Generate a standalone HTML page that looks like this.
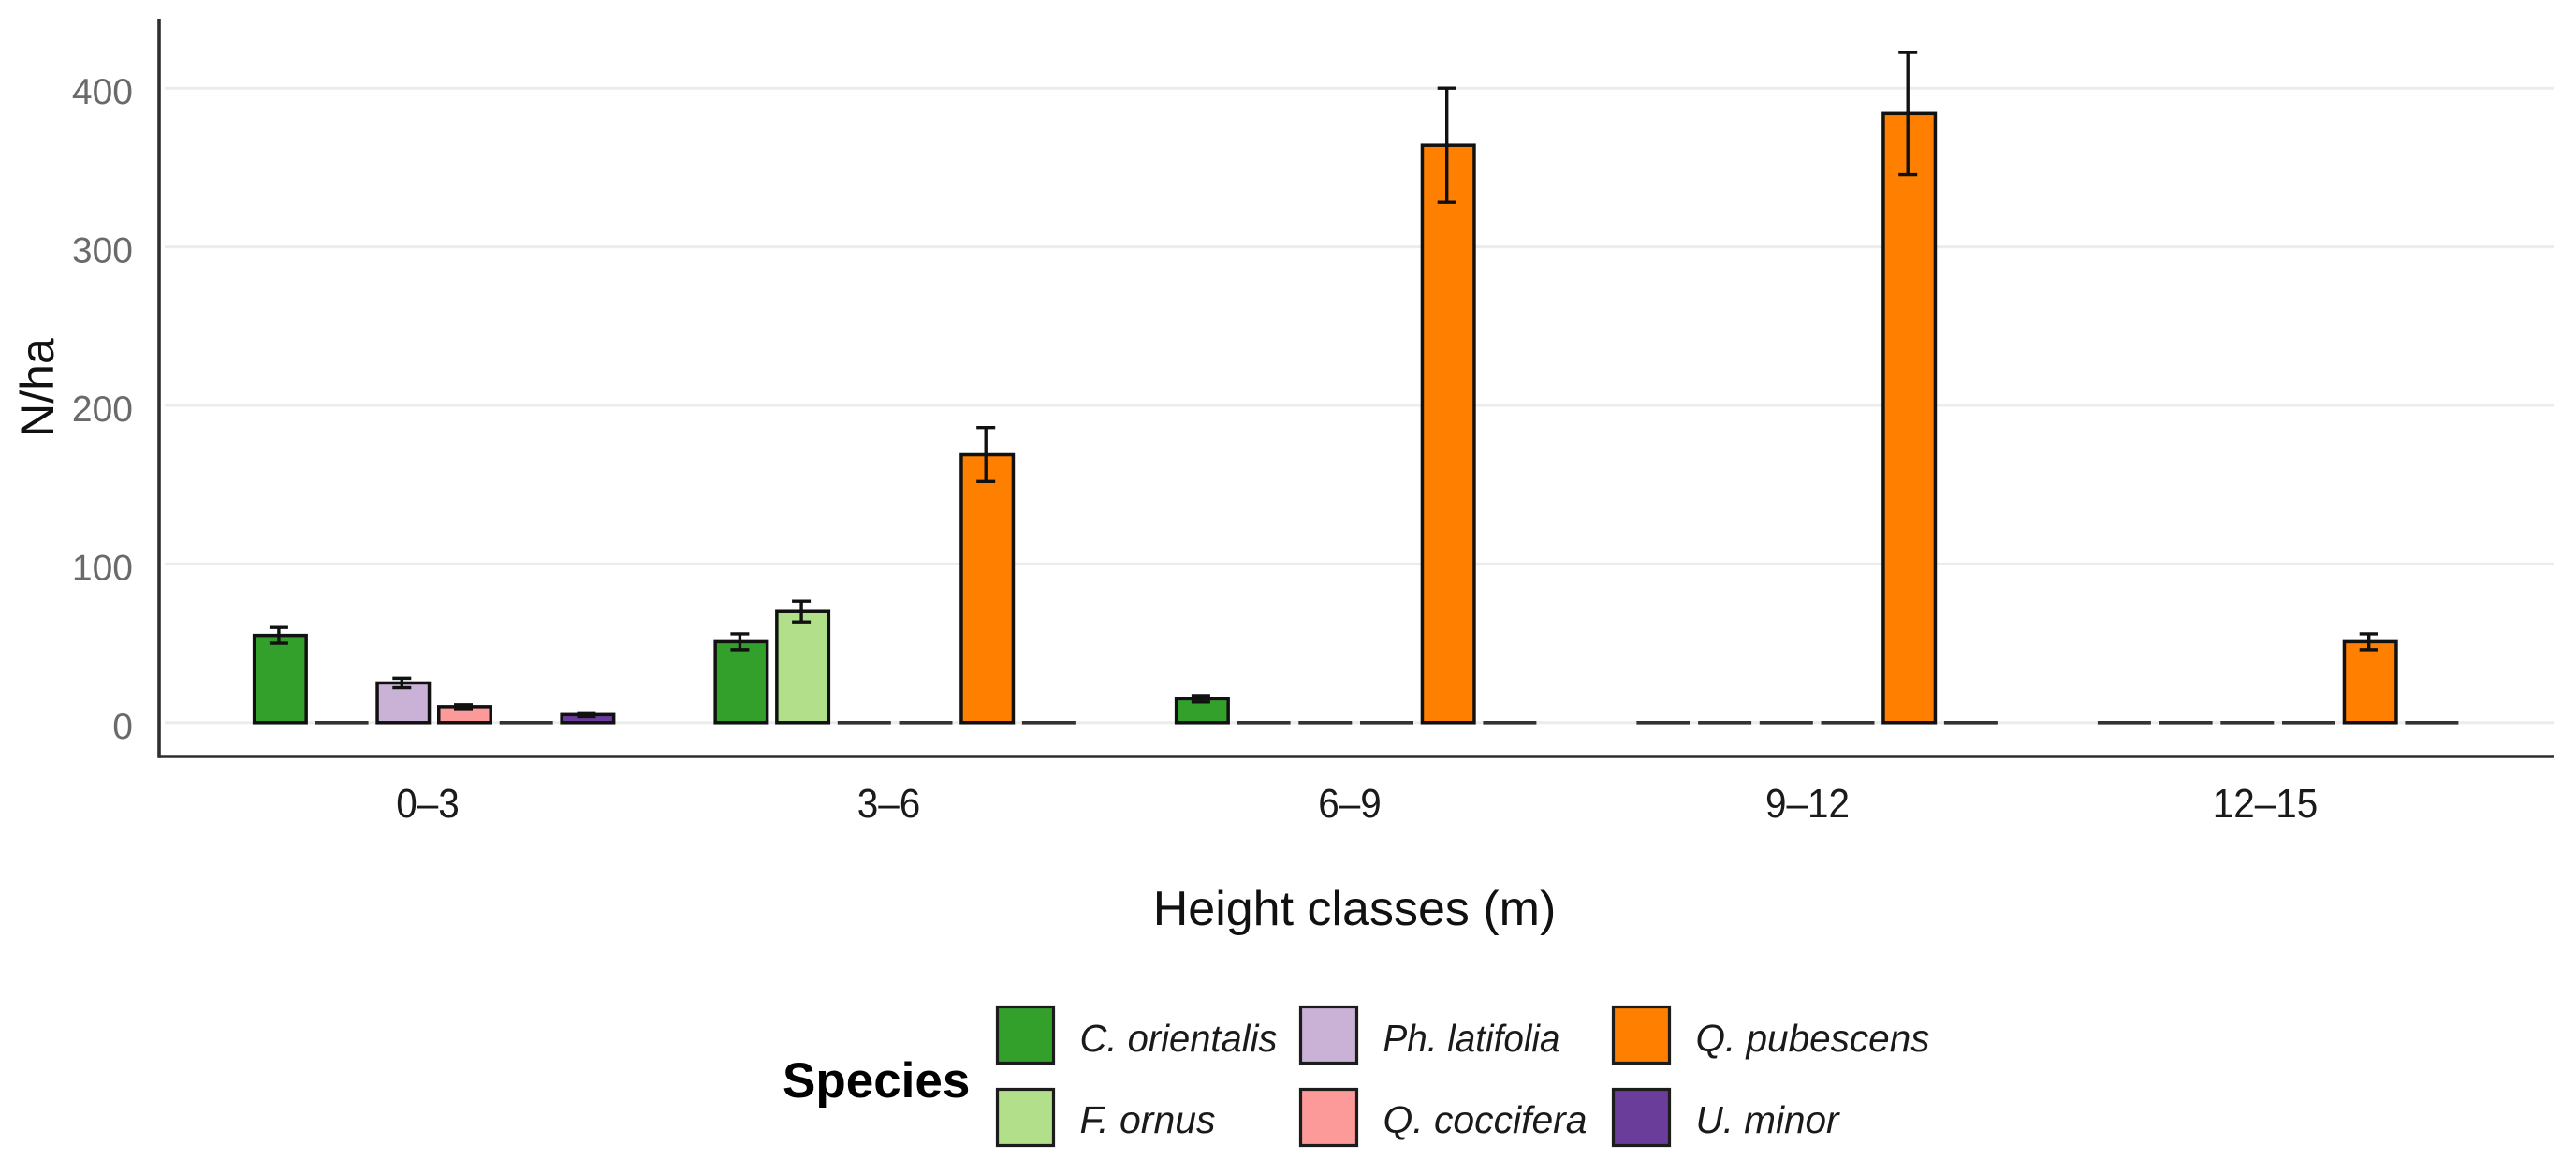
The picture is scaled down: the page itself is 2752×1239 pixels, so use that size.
<!DOCTYPE html>
<html lang="en">
<head>
<meta charset="utf-8">
<title>N/ha by height class and species</title>
<style>
html,body{margin:0;padding:0;background:#fff;}
#chart{display:block;width:2752px;height:1239px;font-family:"Liberation Sans",sans-serif;}
</style>
</head>
<body>
<svg id="chart" xmlns="http://www.w3.org/2000/svg" width="2752" height="1239" viewBox="0 0 2752 1239"></svg>
<script>
const categories = ["0–3", "3–6", "6–9", "9–12", "12–15"];
const yTicks = [0, 100, 200, 300, 400];
const speciesNames = ["C. orientalis", "F. ornus", "Ph. latifolia", "Q. coccifera", "Q. pubescens", "U. minor"];
const speciesColors = ["#33a02c", "#b2df8a", "#cab2d6", "#fb9a99", "#ff7f00", "#6a3d9a"];

const cOrientalis = [55, 51, 15, 0, 0];
const fOrnus = [0, 70, 0, 0, 0];
const phLatifolia = [25, 0, 0, 0, 0];
const qCoccifera = [10, 0, 0, 0, 0];
const qPubescens = [0, 169, 364, 384, 51];
const uMinor = [5, 0, 0, 0, 0];

const cOrientalisErr = [5, 5, 2, 0, 0];
const fOrnusErr = [0, 6.5, 0, 0, 0];
const phLatifoliaErr = [3, 0, 0, 0, 0];
const qCocciferaErr = [1.2, 0, 0, 0, 0];
const qPubescensErr = [0, 17, 36, 38.5, 5];
const uMinorErr = [1.2, 0, 0, 0, 0];

const seriesValues = [cOrientalis, fOrnus, phLatifolia, qCoccifera, qPubescens, uMinor];
const seriesErrors = [cOrientalisErr, fOrnusErr, phLatifoliaErr, qCocciferaErr, qPubescensErr, uMinorErr];

const NS = "http://www.w3.org/2000/svg";
const svg = document.getElementById("chart");

function yScale(v) { return 771.8 - v * 1.694; }
function groupCenter(i) { return 467 + i * 492.5; }
function barLeft(i, j) { return groupCenter(i) + (j - 3) * 65.7; }
const BAR_W = 59;

function make(tag, props) {
  const el = document.createElementNS(NS, tag);
  for (const k in props) el.setAttribute(k, props[k]);
  return el;
}

const bg = make("rect", { x: 0, y: 0, width: 2752, height: 1239, fill: "#ffffff" });


svg.appendChild(bg);

/* gridlines and y tick labels */
yTicks.forEach(function (t) {
  const g = make("line", { x1: 176, x2: 2728, y1: yScale(t), y2: yScale(t), stroke: "#ececec", "stroke-width": 3 });
  
  
  svg.appendChild(g);

  const lab = make("text", { x: 142, y: yScale(t) + 17, "text-anchor": "end", "font-size": 39, fill: "#6a6a6a" });
  
  
  lab.textContent = String(t);
  svg.appendChild(lab);
});

/* bars + error bars */
categories.forEach(function (cat, i) {
  seriesValues.forEach(function (vals, j) {
    const v = vals[i];
    const x = barLeft(i, j);
    const top = yScale(v);
    const base = yScale(0);
    let bar;
    if (v > 0) {
      bar = make("rect", { x: x + 1.75, y: top, width: BAR_W - 3.5, height: base - top, fill: speciesColors[j], stroke: "#111111", "stroke-width": 3.5 });
    } else {
      bar = make("line", { x1: x + 1, x2: x + 58, y1: base, y2: base, stroke: "#333333", "stroke-width": 3.6 });
    }
    
    
    svg.appendChild(bar);

    const e = seriesErrors[j][i];
    if (v > 0 && e > 0) {
      const cx = x + BAR_W / 2 - 1.5;
      const group = make("g", { stroke: "#111111", "stroke-width": 3.4, fill: "none" });
      
      
      group.appendChild(make("line", { x1: cx, x2: cx, y1: yScale(v + e), y2: yScale(v - e) }));
      group.appendChild(make("line", { x1: cx - 10, x2: cx + 10, y1: yScale(v + e), y2: yScale(v + e) }));
      group.appendChild(make("line", { x1: cx - 10, x2: cx + 10, y1: yScale(v - e), y2: yScale(v - e) }));
      svg.appendChild(group);
    }
  });

  const tick = make("text", {
    x: groupCenter(i) - 10 - (cat.length - 3) * 3.5,
    y: 873,
    "text-anchor": "middle",
    "font-size": 44,
    fill: "#1a1a1a",
    textLength: 22.5 * cat.length,
    lengthAdjust: "spacingAndGlyphs"
  });
  
  
  tick.textContent = cat;
  svg.appendChild(tick);
});

/* axes */
const yAxis = make("line", { x1: 170, x2: 170, y1: 20, y2: 809.8, stroke: "#2e2e2e", "stroke-width": 3.6 });


svg.appendChild(yAxis);

const xAxis = make("line", { x1: 170, x2: 2728, y1: 808, y2: 808, stroke: "#2e2e2e", "stroke-width": 3.6 });


svg.appendChild(xAxis);

/* axis titles */
const yTitle = make("text", { x: 0, y: 0, "text-anchor": "middle", "font-size": 50, fill: "#111111", transform: "translate(57,414) rotate(-90)" });


yTitle.textContent = "N/ha";
svg.appendChild(yTitle);

const xTitle = make("text", { x: 1447, y: 988, "text-anchor": "middle", "font-size": 52, fill: "#111111" });


xTitle.textContent = "Height classes (m)";
svg.appendChild(xTitle);

/* legend */
const legendTitle = make("text", { x: 836, y: 1172, "font-size": 53, "font-weight": "bold", fill: "#000000" });


legendTitle.textContent = "Species";
svg.appendChild(legendTitle);

const legendColX = [1065.5, 1389.5, 1723.5];
const legendLabelWidths = [211, 145, 189, 218, 250, 153];
speciesNames.forEach(function (name, j) {
  const col = Math.floor(j / 2);
  const row = j % 2;
  const sx = legendColX[col];
  const sy = row === 0 ? 1075.5 : 1163.5;
  const entry = make("g", {});
  
  
  entry.appendChild(make("rect", { x: sx, y: sy, width: 60, height: 60, fill: speciesColors[j], stroke: "#1c1c1c", "stroke-width": 3.2 }));
  const label = make("text", { x: sx + 88, y: row === 0 ? 1123 : 1210, "font-size": 41, "font-style": "italic", fill: "#1a1a1a", textLength: legendLabelWidths[j], lengthAdjust: "spacingAndGlyphs" });
  label.textContent = name;
  entry.appendChild(label);
  svg.appendChild(entry);
});
</script>
</body>
</html>
